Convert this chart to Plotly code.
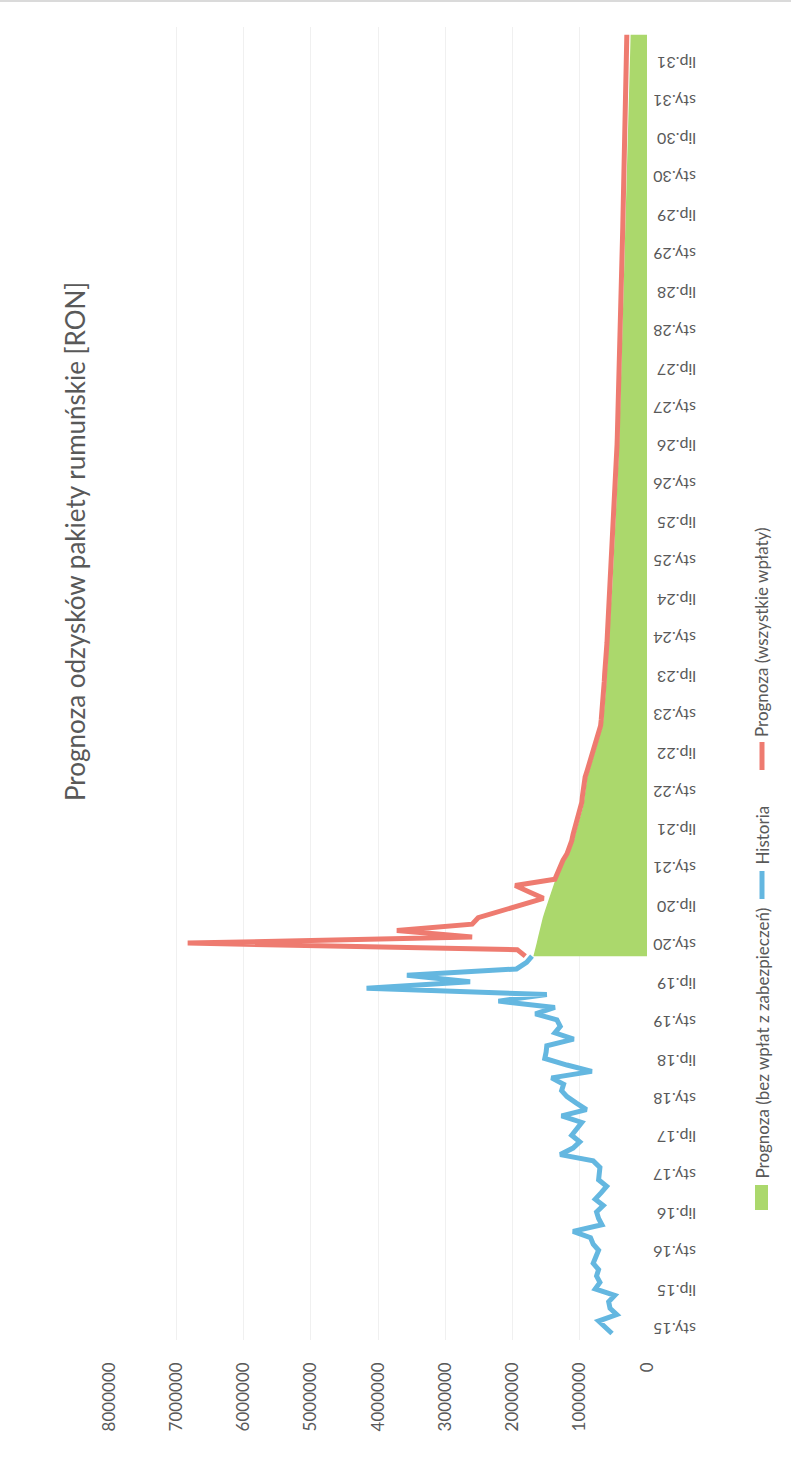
import pandas as pd
import plotly.graph_objects as go

# ---- data (thousands of RON, monthly) ----
HISTORY_START = "2015-01-01"
HISTORIA_TYS = [
    520, 620, 720, 450, 550, 570, 480, 770, 700, 750,
    720, 800, 760, 720, 800, 840, 1100, 670, 720, 750,
    650, 770, 680, 600, 720, 700, 700, 800, 1290, 1100,
    1000, 1120, 1050, 970, 1270, 900, 1050, 1190, 1270, 1240,
    1420, 820, 1190, 1520, 1500, 1490, 1090, 1370, 1290, 1340,
    1660, 1370, 2210, 1490, 4170, 2630, 3570, 1940, 1790, 1710,
]

FORECAST_START = "2019-12-01"
PROGNOZA_WSZYSTKIE_TYS = [
    1810, 1930, 6830, 2600, 3720, 2600, 2510, 2200, 1850, 1540, 1750, 1960,
    1370, 1330, 1290, 1250, 1190, 1150, 1120, 1100, 1070, 1040, 1010, 990,
    970, 960, 950, 940, 920, 890, 860, 830, 800, 770, 740, 710,
    690, 680, 670, 660, 650, 645, 640, 635, 630, 620, 615, 610,
    600, 595, 590, 585, 580, 575, 570, 565, 560, 550, 545, 540,
    535, 530, 525, 520, 515, 510, 505, 500, 495, 490, 485, 480,
    475, 470, 465, 460, 457, 454, 451, 448, 445, 442, 439, 436,
    433, 430, 427, 424, 421, 418, 415, 412, 409, 406, 403, 400,
    397, 394, 392, 390, 388, 386, 384, 382, 380, 378, 376, 374,
    372, 370, 368, 366, 364, 362, 360, 358, 356, 354, 352, 350,
    348, 346, 344, 342, 340, 338, 336, 334, 332, 330, 328, 326,
    324, 322, 320, 318, 316, 314, 312, 310, 308, 306, 304, 302, 300,
]

PROGNOZA_BEZ_ZABEZP_TYS = [
    1690, 1670, 1640, 1620, 1600, 1570, 1550, 1520, 1490, 1460, 1430, 1400,
    1360, 1300, 1260, 1220, 1160, 1120, 1090, 1070, 1040, 1010, 980, 960,
    940, 930, 920, 910, 890, 860, 830, 800, 770, 740, 710, 680,
    660, 650, 640, 630, 620, 615, 610, 605, 600, 590, 585, 580,
    570, 565, 560, 555, 550, 545, 540, 535, 530, 520, 515, 510,
    505, 500, 495, 490, 485, 480, 475, 470, 465, 460, 455, 450,
    445, 440, 435, 430, 427, 424, 421, 418, 415, 412, 409, 406,
    403, 400, 397, 394, 391, 388, 385, 382, 379, 376, 373, 370,
    362, 359, 356, 354, 352, 350, 348, 346, 344, 342, 340, 338,
    336, 334, 332, 330, 327, 324, 321, 318, 315, 312, 309, 306,
    303, 300, 297, 294, 291, 288, 285, 282, 279, 276, 273, 270,
    268, 266, 264, 262, 260, 258, 256, 254, 252, 250, 248, 246, 244,
]

# axis ticks: value axis (RON) and half-year date labels
VALUE_TICKS = [0, 1000000, 2000000, 3000000, 4000000, 5000000, 6000000, 7000000, 8000000]
VALUE_TICK_TEXT = [str(v) for v in VALUE_TICKS]
YEARS = list(range(2015, 2032))
DATE_TICKS = [f"{y}-{m:02d}-01" for y in YEARS for m in (1, 7)]
DATE_TICK_TEXT = [f"{'sty' if m == 1 else 'lip'}.{str(y)[2:]}" for y in YEARS for m in (1, 7)]

TITLE = "Prognoza odzysków pakiety rumuńskie [RON]"
LEGEND_NAMES = ["Prognoza (bez wpłat z zabezpieczeń)", "Historia", "Prognoza (wszystkie wpłaty)"]

# ---- styling ----
W, H = 791, 1465
M_L, M_R, M_T, M_B = 109, 144, 27, 125
PLOT_W, PLOT_H = W - M_L - M_R, H - M_T - M_B
TXT = "#595959"
FONT = "Lato"
BLUE, RED, GREEN = "#64B7E0", "#EE7B70", "#ABD86C"
LINE_W = 5


def px(x, y):
    """Pixel position on the page -> paper coordinates."""
    return (x - M_L) / PLOT_W, (H - M_B - y) / PLOT_H


hist_dates = pd.date_range(HISTORY_START, periods=len(HISTORIA_TYS), freq="MS")
fc_dates = pd.date_range(FORECAST_START, periods=len(PROGNOZA_WSZYSTKIE_TYS), freq="MS")

fig = go.Figure()
fig.add_trace(go.Scatter(
    x=[v * 1000 for v in PROGNOZA_BEZ_ZABEZP_TYS], y=fc_dates,
    mode="lines", fill="tozerox", fillcolor=GREEN, line=dict(width=0, color=GREEN),
    name=LEGEND_NAMES[0], showlegend=False,
))
fig.add_trace(go.Scatter(
    x=[v * 1000 for v in HISTORIA_TYS], y=hist_dates,
    mode="lines", line=dict(color=BLUE, width=LINE_W),
    name=LEGEND_NAMES[1], showlegend=False,
))
fig.add_trace(go.Scatter(
    x=[v * 1000 for v in PROGNOZA_WSZYSTKIE_TYS], y=fc_dates,
    mode="lines", line=dict(color=RED, width=LINE_W),
    name=LEGEND_NAMES[2], showlegend=False,
))

fig.update_layout(
    width=W, height=H, autosize=False,
    margin=dict(l=M_L, r=M_R, t=M_T, b=M_B, pad=0),
    paper_bgcolor="white", plot_bgcolor="white",
    font=dict(family=FONT, color=TXT),
    xaxis=dict(
        range=[8000000, 0], tickvals=VALUE_TICKS, ticktext=VALUE_TICK_TEXT,
        tickangle=-90, tickfont=dict(size=17, color=TXT, family=FONT),
        showgrid=True, gridcolor="#F0F0F0", gridwidth=1,
        zeroline=False, showline=False, ticks="", ticklabelstandoff=18,
        fixedrange=True,
    ),
    yaxis=dict(
        type="date", range=["2014-12-01", "2032-01-07"], side="right",
        tickvals=DATE_TICKS, ticktext=DATE_TICK_TEXT, tickangle=180,
        tickfont=dict(size=16, color=TXT, family=FONT),
        showgrid=False, zeroline=False, showline=False, ticks="",
        ticklabelstandoff=48, fixedrange=True,
    ),
)

# faint frame edge along the top of the page
fig.add_shape(type="line", xref="paper", yref="paper",
              x0=px(0, 1)[0], x1=px(W, 1)[0], y0=px(0, 1)[1], y1=px(0, 1)[1],
              line=dict(color="#DADADA", width=2))

# rotated title
tx, ty = px(75, 542)
fig.add_annotation(
    x=tx, y=ty, xref="paper", yref="paper", text=TITLE, showarrow=False,
    textangle=-90, xanchor="center", yanchor="middle",
    font=dict(size=26, color=TXT, family=FONT),
)

# legend (rotated, drawn beside the date labels)
gx0, gy0 = px(755, 1210)
gx1, gy1 = px(768, 1185)
fig.add_shape(type="rect", xref="paper", yref="paper", x0=gx0, y0=gy0, x1=gx1, y1=gy1,
              fillcolor=GREEN, line=dict(width=0))
bx, by0 = px(762, 899)
_, by1 = px(762, 871)
fig.add_shape(type="line", xref="paper", yref="paper", x0=bx, y0=by0, x1=bx, y1=by1,
              line=dict(color=BLUE, width=LINE_W))
rx, ry0 = px(762, 770)
_, ry1 = px(762, 742)
fig.add_shape(type="line", xref="paper", yref="paper", x0=rx, y0=ry0, x1=rx, y1=ry1,
              line=dict(color=RED, width=LINE_W))

for name, bottom in zip(LEGEND_NAMES, (1181, 867, 739)):
    lx, ly = px(762, bottom)
    fig.add_annotation(
        x=lx, y=ly, xref="paper", yref="paper", text=name, showarrow=False,
        textangle=-90, xanchor="center", yanchor="bottom",
        font=dict(size=17, color=TXT, family=FONT),
    )

fig.write_html("out.html")
